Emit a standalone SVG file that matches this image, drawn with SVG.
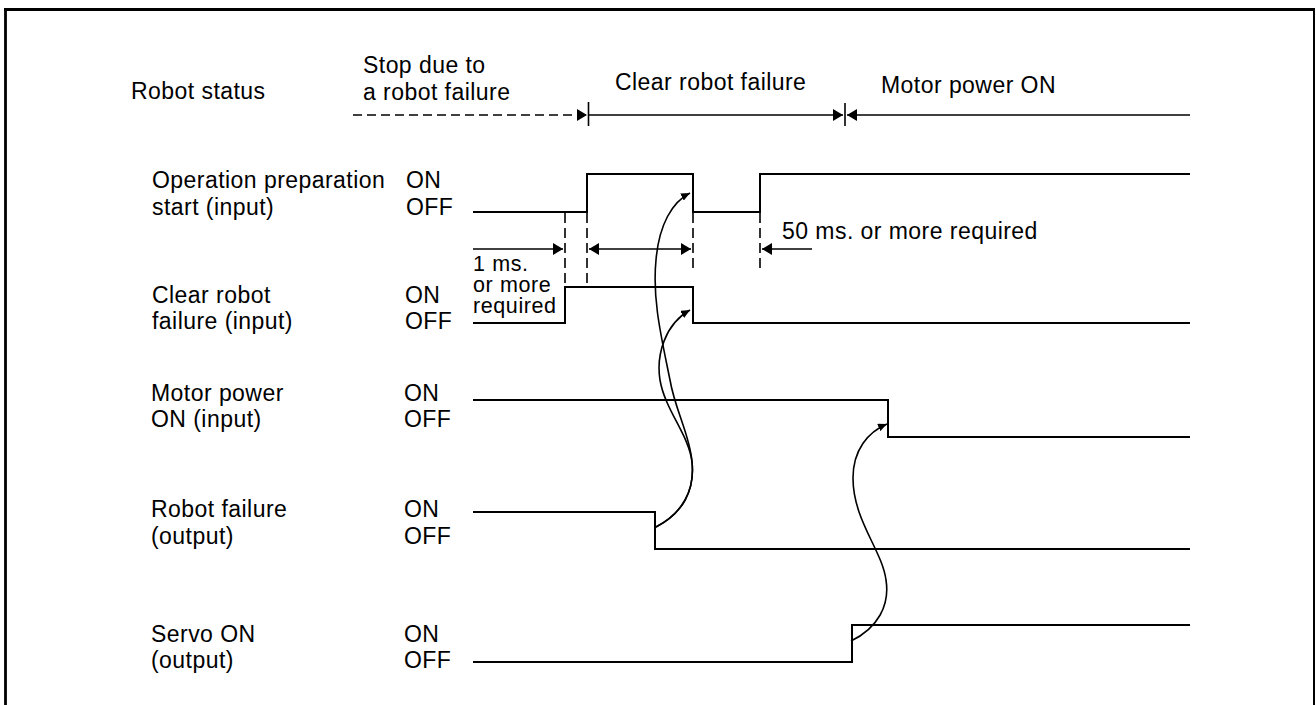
<svg xmlns="http://www.w3.org/2000/svg" width="1316" height="705" viewBox="0 0 1316 705">
<style>
text{font-family:"Liberation Sans",Arial,sans-serif;font-size:23px;letter-spacing:0.45px;fill:#000}
text.sm{font-size:21.5px;letter-spacing:0.6px}
.sig{fill:none;stroke:#000;stroke-width:2}
.dim{fill:none;stroke:#000;stroke-width:1.6}
.dash{fill:none;stroke:#000;stroke-width:1.6;stroke-dasharray:9,5}
.vd{fill:none;stroke:#000;stroke-width:1.6;stroke-dasharray:10,5}
.crv{fill:none;stroke:#000;stroke-width:1.6}
</style>
<defs>
<marker id="ah" viewBox="0 0 10 12" refX="10" refY="6" markerWidth="10" markerHeight="12" markerUnits="userSpaceOnUse" orient="auto-start-reverse"><path d="M0,0 L10,6 L0,12 z" fill="#000"/></marker>
<marker id="sa" viewBox="0 0 9 8" refX="9" refY="4" markerWidth="9" markerHeight="8" markerUnits="userSpaceOnUse" orient="auto"><path d="M0,0 L9,4 L0,8 z" fill="#000"/></marker>
</defs>
<rect x="0" y="0" width="1316" height="705" fill="#fff"/>
<g id="frame">
<line x1="5.5" y1="8" x2="5.5" y2="705" stroke="#000" stroke-width="2.8"/>
<line x1="4" y1="9.5" x2="1315" y2="9.5" stroke="#000" stroke-width="2.8"/>
<line x1="1314" y1="8" x2="1314" y2="705" stroke="#000" stroke-width="2"/>
</g>
<g id="status">
<text x="131" y="99">Robot status</text>
<text x="363" y="73">Stop due to</text>
<text x="363" y="100">a robot failure</text>
<text x="615" y="90">Clear robot failure</text>
<text x="881" y="93">Motor power ON</text>
<line class="dash" x1="353" y1="115" x2="587" y2="115" marker-end="url(#ah)"/>
<line class="dim" x1="588.5" y1="102" x2="588.5" y2="126"/>
<line class="dim" x1="589" y1="115" x2="843" y2="115" marker-end="url(#ah)"/>
<line class="dim" x1="845" y1="103" x2="845" y2="126"/>
<line class="dim" x1="1190" y1="115" x2="847" y2="115" marker-end="url(#ah)"/>
</g>
<g id="sig-opstart">
<text x="152" y="188">Operation preparation</text>
<text x="152" y="215">start (input)</text>
<text x="406" y="188">ON</text>
<text x="406" y="215">OFF</text>
<path class="sig" d="M473,212 H587 V174 H693 V212 H760 V174 H1190"/>
</g>
<g id="sig-clear">
<text x="152" y="303">Clear robot</text>
<text x="152" y="329">failure (input)</text>
<text x="405" y="303">ON</text>
<text x="405" y="329">OFF</text>
<path class="sig" d="M473,323 H565 V287 H693 V323 H1190"/>
</g>
<g id="sig-motor">
<text x="151" y="401">Motor power</text>
<text x="151" y="427">ON (input)</text>
<text x="404" y="401">ON</text>
<text x="404" y="427">OFF</text>
<path class="sig" d="M473,400 H888 V437 H1190"/>
</g>
<g id="sig-failure">
<text x="151" y="517">Robot failure</text>
<text x="151" y="544">(output)</text>
<text x="404" y="517">ON</text>
<text x="404" y="544">OFF</text>
<path class="sig" d="M473,512 H655 V549 H1190"/>
</g>
<g id="sig-servo">
<text x="151" y="642">Servo ON</text>
<text x="151" y="668">(output)</text>
<text x="404" y="642">ON</text>
<text x="404" y="668">OFF</text>
<path class="sig" d="M473,662 H852 V625 H1190"/>
</g>
<g id="timing">
<text class="sm" x="473" y="271">1 ms.</text>
<text class="sm" x="473" y="292">or more</text>
<text class="sm" x="473" y="312.5">required</text>
<text x="782" y="239">50 ms. or more required</text>
</g>
<g id="connectors">
<line class="vd" x1="565" y1="213" x2="565" y2="287"/>
<line class="vd" x1="587" y1="213" x2="587" y2="284"/>
<line class="vd" x1="693" y1="213" x2="693" y2="269"/>
<line class="vd" x1="760" y1="213" x2="760" y2="269"/>
<line class="dim" x1="473" y1="249" x2="563" y2="249" marker-end="url(#ah)"/>
<line class="dim" x1="589" y1="249" x2="691" y2="249" marker-start="url(#ah)" marker-end="url(#ah)"/>
<line class="dim" x1="812" y1="249" x2="762" y2="249" marker-end="url(#ah)"/>
<path class="crv" d="M656,527 C683,513 695,490 692,462 C690,435 675,410 670,380 C662,340 652,300 656,260 C659,225 672,202 690,193" marker-end="url(#sa)"/>
<path class="crv" d="M656,527 C683,513 695,490 692,462 C689,435 665,410 660,380 C656,355 665,324 690,310" marker-end="url(#sa)"/>
<path class="crv" d="M851,641 C878,628 890,605 886,580 C882,550 853,520 853,478 C853,450 868,432 887,424" marker-end="url(#sa)"/>
</g>
</svg>
